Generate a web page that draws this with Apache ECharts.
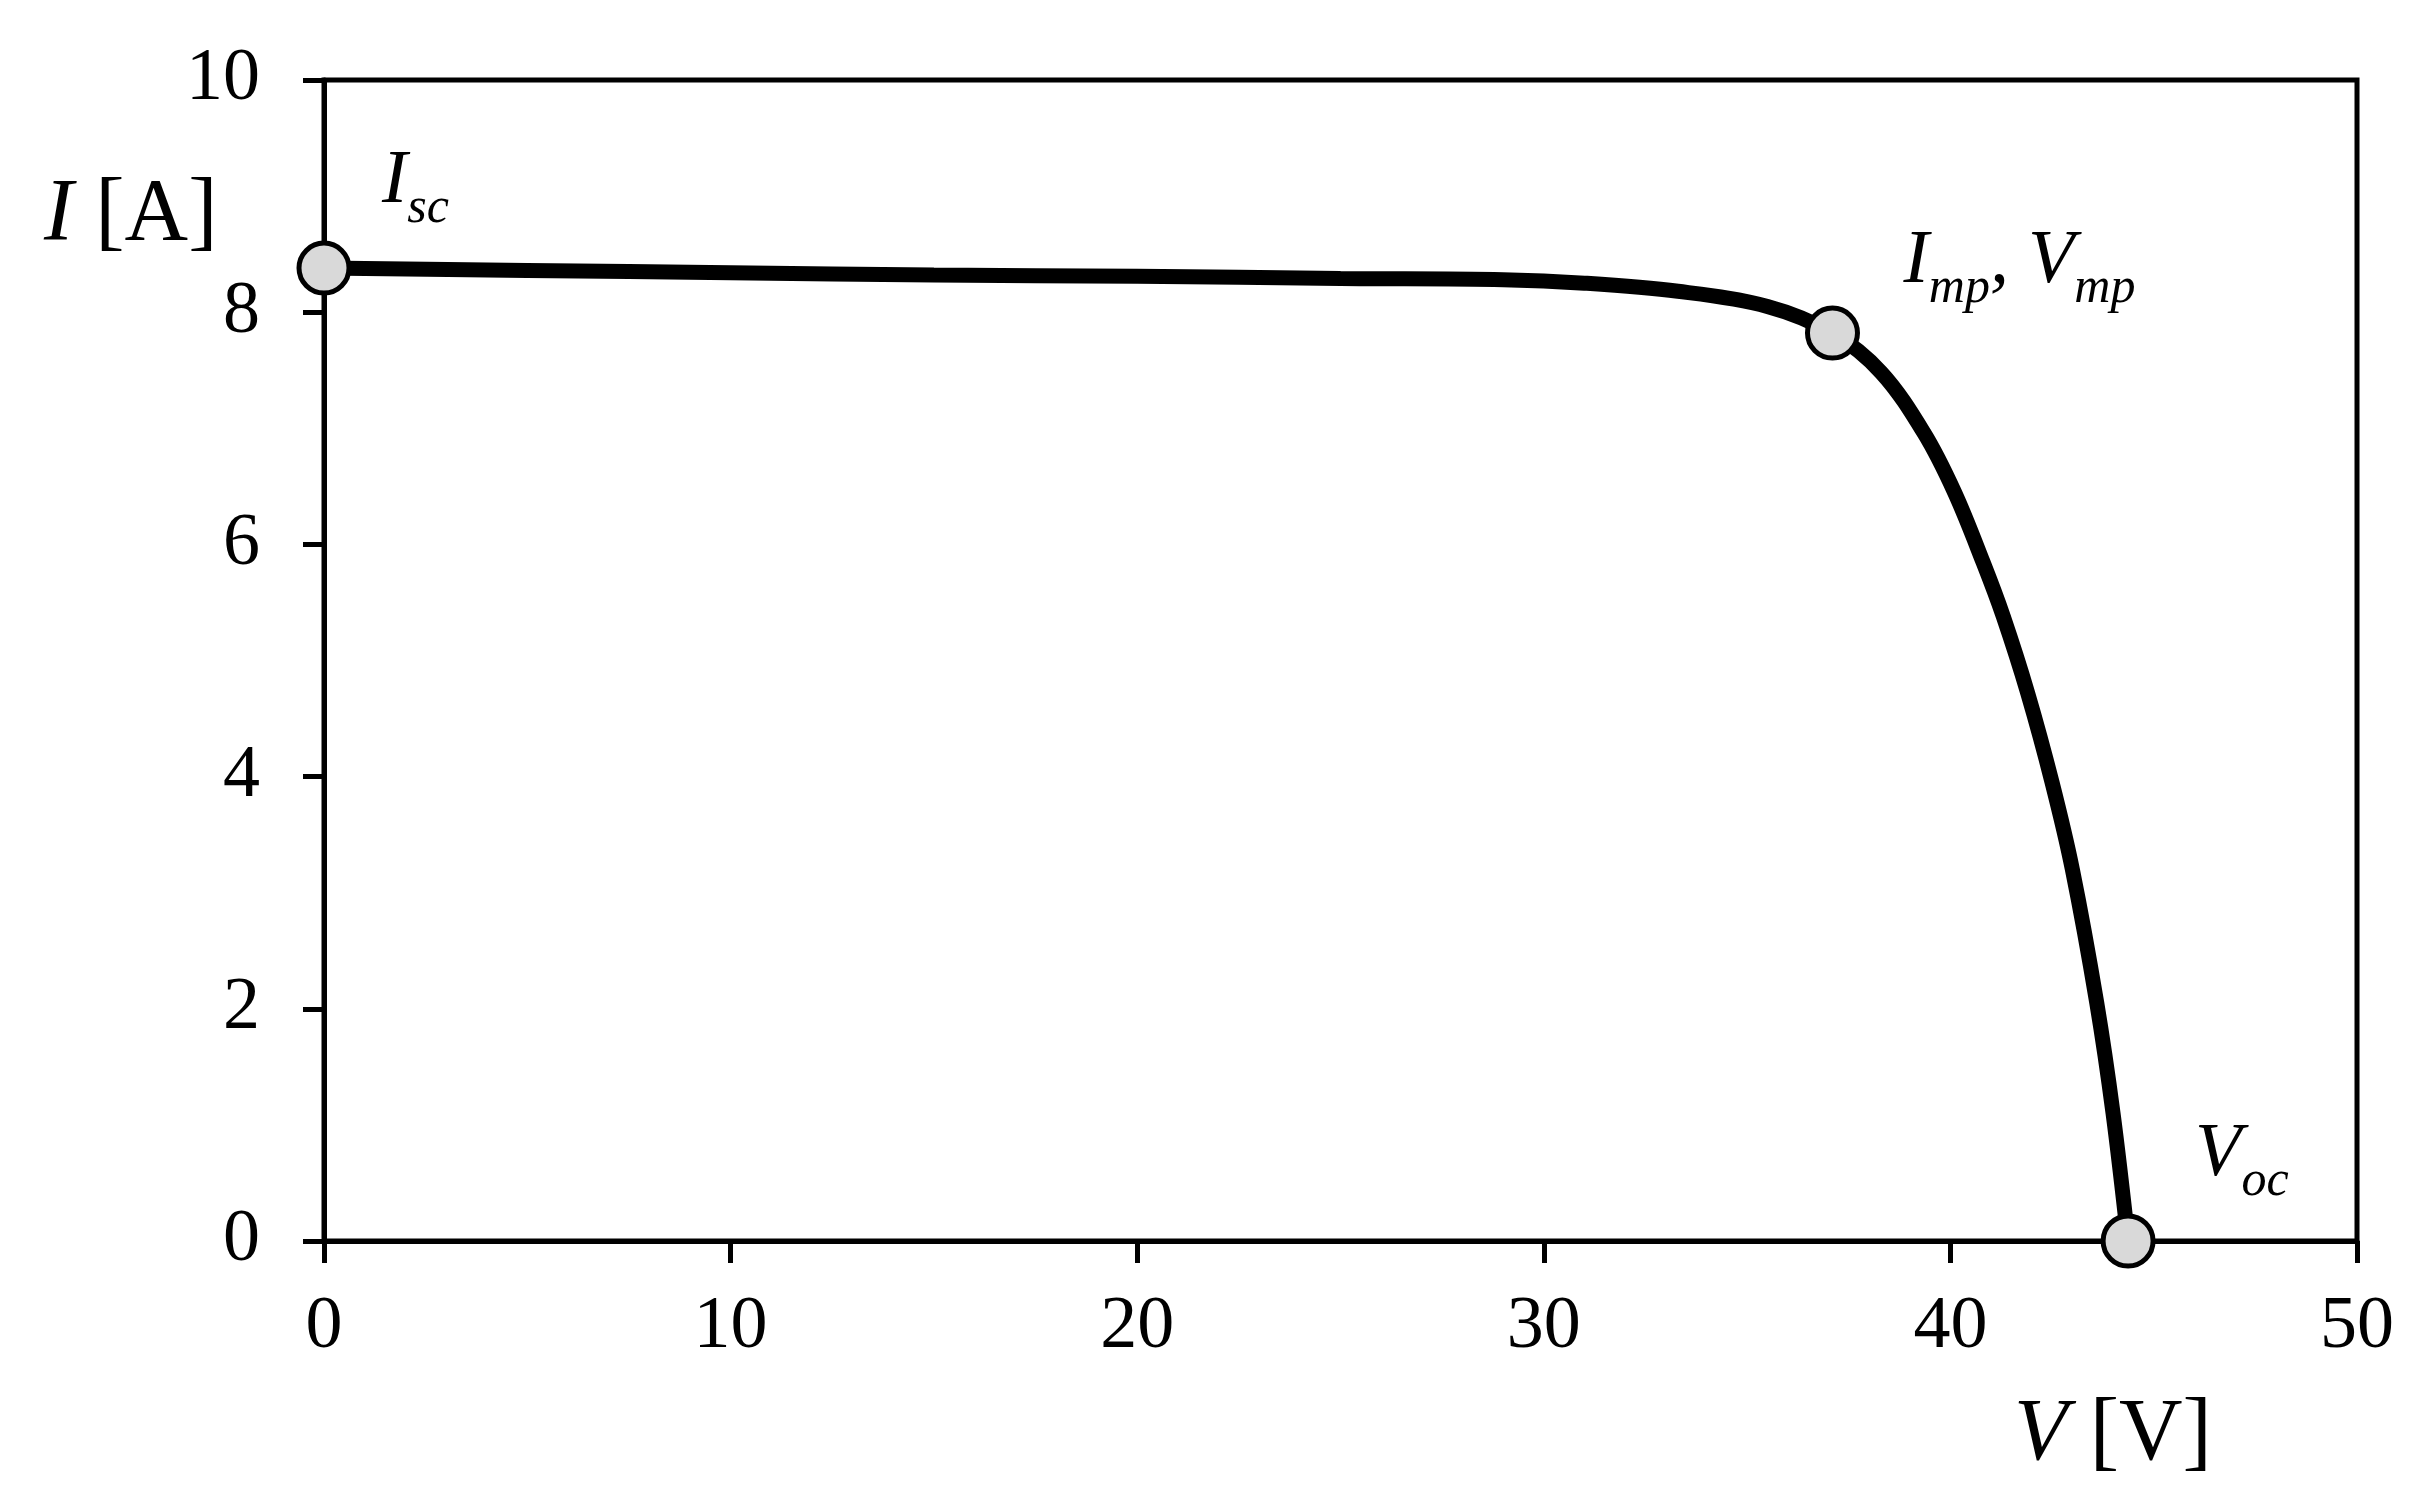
<!DOCTYPE html>
<html>
<head>
<meta charset="utf-8">
<script src="https://cdn.jsdelivr.net/npm/echarts@6/dist/echarts.min.js"></script>
<style>
html,body{margin:0;padding:0;background:#fff;}
#chart{width:2420px;height:1490px;}
</style>
</head>
<body>
<div id="chart"></div>
<script>
// I-V curve
const voltage = [0, 5, 10, 15, 20, 25, 29, 31, 33.3, 35.5, 37.1, 38.3, 39.35, 40.1, 40.8, 41.3, 41.9, 42.5, 43.0, 43.6, 44.0, 44.37];
const current = [8.38, 8.36, 8.34, 8.32, 8.31, 8.29, 8.28, 8.25, 8.18, 8.05, 7.82, 7.48, 6.96, 6.45, 5.85, 5.38, 4.72, 3.95, 3.2, 2.05, 1.1, 0];
// key points
const keyVoltage = [0, 37.1, 44.37];
const keyCurrent = [8.38, 7.82, 0];
const keyNames = ['sc', 'mp', 'oc'];
const xTicks = [0, 10, 20, 30, 40, 50];
const yTicks = [0, 2, 4, 6, 8, 10];

const FONT = 'Liberation Serif';
const chart = echarts.init(document.getElementById('chart'));

const curve = voltage.map((v, i) => [v, current[i]]);
const keyPts = keyVoltage.map((v, i) => ({ value: [v, keyCurrent[i]], name: keyNames[i] }));

const rich = {
  b: { fontFamily: FONT, fontSize: 76, fontStyle: 'italic', color: '#000', lineHeight: 76, verticalAlign: 'bottom', padding: [0, 0, 14, 0] },
  s: { fontFamily: FONT, fontSize: 50, fontStyle: 'italic', color: '#000', lineHeight: 50, verticalAlign: 'bottom' }
};
const labelText = {
  sc: '{b|I}{s|sc}',
  mp: '{b|I}{s|mp}{b|, V}{s|mp}',
  oc: '{b|V}{s|oc}'
};
const labelOffset = {
  sc: [58, -34],
  mp: [71, -19],
  oc: [67, -34]
};

chart.setOption({
  animation: false,
  backgroundColor: '#fff',
  grid: { left: 324, right: 63, top: 80, bottom: 249, show: true, borderColor: '#000', borderWidth: 5, backgroundColor: 'transparent' },
  xAxis: {
    type: 'value', min: 0, max: 50, interval: 10,
    axisLine: { show: true, onZero: false, lineStyle: { color: '#000', width: 5 } },
    axisTick: { show: true, inside: false, length: 22, lineStyle: { color: '#000', width: 5 } },
    axisLabel: { color: '#000', fontFamily: FONT, fontSize: 74, margin: 50,
      formatter: v => xTicks.includes(v) ? String(v) : '' },
    splitLine: { show: false }
  },
  yAxis: {
    type: 'value', min: 0, max: 10, interval: 2,
    axisLine: { show: true, onZero: false, lineStyle: { color: '#000', width: 5 } },
    axisTick: { show: true, inside: false, length: 21, lineStyle: { color: '#000', width: 5 } },
    axisLabel: { color: '#000', fontFamily: FONT, fontSize: 74, margin: 64,
      formatter: v => yTicks.includes(v) ? String(v) : '' },
    splitLine: { show: false }
  },
  graphic: [
    { type: 'text', left: 44, top: 172, z: 10,
      style: { text: '{i|I} [A]', rich: { i: { fontFamily: FONT, fontSize: 88, fontStyle: 'italic', fill: '#000' } }, fontFamily: FONT, fontSize: 88, fill: '#000' } },
    { type: 'text', left: 2014, top: 1392, z: 10,
      style: { text: '{i|V} [V]', rich: { i: { fontFamily: FONT, fontSize: 88, fontStyle: 'italic', fill: '#000' } }, fontFamily: FONT, fontSize: 88, fill: '#000' } }
  ],
  series: [
    {
      type: 'line', data: curve, smooth: 0.35, showSymbol: false, symbol: 'none',
      lineStyle: { color: '#000', width: 15 }, z: 2, clip: false
    },
    {
      type: 'scatter', data: keyPts, symbol: 'circle', symbolSize: 50, z: 5, clip: false,
      itemStyle: { color: '#d9d9d9', borderColor: '#000', borderWidth: 5, opacity: 1 },
      label: {
        show: true, position: 'inside', align: 'left', verticalAlign: 'bottom',
        formatter: p => labelText[p.name],
        rich: rich
      },
      labelLayout: p => {
        const n = keyNames[p.dataIndex];
        return { dx: labelOffset[n][0], dy: labelOffset[n][1] };
      }
    }
  ]
});
</script>
</body>
</html>
